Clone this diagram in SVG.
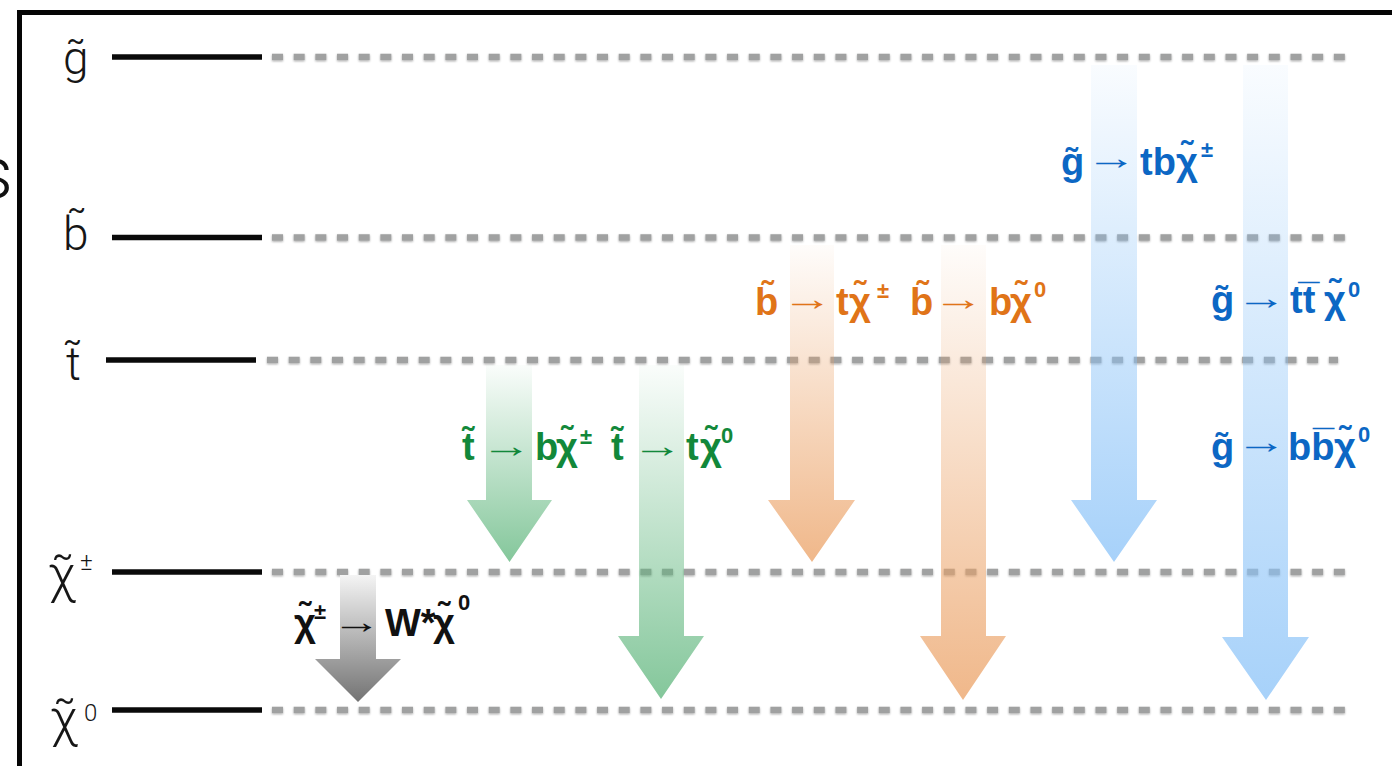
<svg xmlns="http://www.w3.org/2000/svg" width="1392" height="766" viewBox="0 0 1392 766">
  <style>
    .lvl-name { font-family: Roboto, "Liberation Sans", "DejaVu Sans", sans-serif; font-weight: 300; font-size: 46px; fill: #161616; }
    .lvl-chi { font-size: 52px; }
    .lvl-sup { font-size: 24px; }
    .solid { stroke: #0a0a0a; stroke-width: 5.5; }
    .dots { stroke: #a0a1a1; stroke-width: 6.5; stroke-dasharray: 11 10.67; }
    .lbl { font-family: "Liberation Sans", Arial, "DejaVu Sans", sans-serif; font-weight: bold; font-size: 38px; }
    .ar { font-family: "Liberation Sans", "DejaVu Sans", sans-serif; font-weight: normal; font-size: 33px; }
    .sup { font-size: 22px; }
    .green { fill: #12883a; }
    .orange { fill: #e07418; }
    .blue { fill: #0c67c4; }
    .black { fill: #111111; }
  </style>
  <defs>
    <linearGradient id="g-green" x1="0" y1="0" x2="0" y2="1">
      <stop offset="0" stop-color="#5db57b" stop-opacity="0.03"/>
      <stop offset="1" stop-color="#5db57b" stop-opacity="0.76"/>
    </linearGradient>
    <linearGradient id="g-orange" x1="0" y1="0" x2="0" y2="1">
      <stop offset="0" stop-color="#eba165" stop-opacity="0.03"/>
      <stop offset="1" stop-color="#eba165" stop-opacity="0.76"/>
    </linearGradient>
    <linearGradient id="g-blue" x1="0" y1="0" x2="0" y2="1">
      <stop offset="0" stop-color="#8bc3f8" stop-opacity="0.05"/>
      <stop offset="1" stop-color="#8bc3f8" stop-opacity="0.76"/>
    </linearGradient>
    <linearGradient id="g-gray" x1="0" y1="0" x2="0" y2="1">
      <stop offset="0" stop-color="#f4f4f4"/>
      <stop offset="1" stop-color="#737373"/>
    </linearGradient>
    <filter id="soft" filterUnits="userSpaceOnUse" x="0" y="0" width="1392" height="766">
      <feGaussianBlur in="SourceAlpha" stdDeviation="1.2"/>
      <feOffset dy="1.2" result="sh"/>
      <feComponentTransfer in="sh" result="shf"><feFuncA type="linear" slope="0.35"/></feComponentTransfer>
      <feMerge><feMergeNode in="shf"/><feMergeNode in="SourceGraphic"/></feMerge>
    </filter>
  </defs>

  <rect width="1392" height="766" fill="#ffffff"/>

  <!-- frame, cut at the right and bottom -->
  <rect x="19.5" y="12.5" width="1420" height="800" fill="none" stroke="#050505" stroke-width="5"/>
  <!-- tail of the axis title, cut at the left -->
  <text x="13" y="198" text-anchor="end" font-family="Roboto, 'Liberation Sans', sans-serif" font-weight="300" font-size="74" fill="#111">s</text>

  <!-- mass levels -->
  <g id="levels">
    <g id="level-gluino">
      <text class="lvl-name" x="63" y="74">g̃</text>
      <line class="solid" x1="112" y1="57" x2="262" y2="57"/>
      <line class="dots" x1="272" y1="57" x2="1346" y2="57" filter="url(#soft)"/>
    </g>
    <g id="level-sbottom">
      <text class="lvl-name" x="63" y="250">b̃</text>
      <line class="solid" x1="112" y1="237.5" x2="262" y2="237.5"/>
      <line class="dots" x1="272" y1="237.5" x2="1346" y2="237.5" filter="url(#soft)"/>
    </g>
    <g id="level-stop">
      <text class="lvl-name" x="66" y="380">t̃</text>
      <line class="solid" x1="106" y1="360" x2="256" y2="360"/>
      <line class="dots" x1="267" y1="360" x2="1338" y2="360" filter="url(#soft)"/>
    </g>
    <g id="level-chargino">
      <text class="lvl-name lvl-chi" x="48" y="592">χ̃<tspan class="lvl-sup" x="80" y="570">±</tspan></text>
      <line class="solid" x1="112" y1="572" x2="262" y2="572"/>
      <line class="dots" x1="272" y1="572" x2="1346" y2="572" filter="url(#soft)"/>
    </g>
    <g id="level-neutralino">
      <text class="lvl-name lvl-chi" x="50" y="736">χ̃<tspan class="lvl-sup" x="84" y="721" font-size="26">0</tspan></text>
      <line class="solid" x1="112" y1="710" x2="262" y2="710"/>
      <line class="dots" x1="272" y1="710" x2="1346" y2="710" filter="url(#soft)"/>
    </g>
  </g>

  <!-- decay arrows -->
  <g id="decays">
    <g id="decay-chargino-w">
      <polygon points="340,575 376,575 376,659 401,659 358,702 315,659 340,659" fill="url(#g-gray)"/>
    </g>
    <g id="decay-stop-b">
      <polygon points="486,365 532,365 532,500 552,500 509.5,562 467,500 486,500" fill="url(#g-green)"/>
    </g>
    <g id="decay-stop-t">
      <polygon points="639,365 684,365 684,636 704,636 661,699 618,636 639,636" fill="url(#g-green)"/>
    </g>
    <g id="decay-sbottom-t">
      <polygon points="790,245 834,245 834,500 855,500 812,562 768,500 790,500" fill="url(#g-orange)"/>
    </g>
    <g id="decay-sbottom-b">
      <polygon points="941,245 986,245 986,636 1006,636 963,700 920,636 941,636" fill="url(#g-orange)"/>
    </g>
    <g id="decay-gluino-tb">
      <polygon points="1091,65 1137,65 1137,500 1157,500 1114,562 1071,500 1091,500" fill="url(#g-blue)"/>
    </g>
    <g id="decay-gluino-tt">
      <polygon points="1243,65 1288,65 1288,637 1309,637 1266,700 1222,637 1243,637" fill="url(#g-blue)"/>
    </g>
  </g>

  <!-- decay labels -->
  <g id="labels">
    <g id="label-chargino-w">
      <text class="lbl black" y="636" font-size="34"><tspan x="294">χ̃</tspan><tspan class="sup" x="314" y="619" font-size="20">±</tspan><tspan x="385" y="636">W*</tspan><tspan x="433">χ̃</tspan><tspan class="sup" x="458" y="610">0</tspan></text>
      <text class="ar black" transform="translate(332,633) scale(1.5,1)">→</text>
    </g>
    <g id="label-stop-b">
      <text class="lbl green" y="460"><tspan x="462">t̃</tspan><tspan x="535">b</tspan><tspan x="556">χ̃</tspan><tspan class="sup" x="580" y="444">±</tspan></text>
      <text class="ar green" transform="translate(481,457) scale(1.55,1)">→</text>
    </g>
    <g id="label-stop-t">
      <text class="lbl green" y="460"><tspan x="611">t̃</tspan><tspan x="686">t</tspan><tspan x="700">χ̃</tspan><tspan class="sup" x="721" y="443">0</tspan></text>
      <text class="ar green" transform="translate(632,457) scale(1.55,1)">→</text>
    </g>
    <g id="label-sbottom-t">
      <text class="lbl orange" y="315"><tspan x="755">b̃</tspan><tspan x="836">t</tspan><tspan x="849">χ̃</tspan><tspan class="sup" x="877" y="298">±</tspan></text>
      <text class="ar orange" transform="translate(782,310) scale(1.55,1)">→</text>
    </g>
    <g id="label-sbottom-b">
      <text class="lbl orange" y="315"><tspan x="910">b̃</tspan><tspan x="989">b</tspan><tspan x="1010">χ̃</tspan><tspan class="sup" x="1034" y="297">0</tspan></text>
      <text class="ar orange" transform="translate(933,310) scale(1.55,1)">→</text>
    </g>
    <g id="label-gluino-tb">
      <text class="lbl blue" y="175"><tspan x="1061">g̃</tspan><tspan x="1140">tb</tspan><tspan x="1176">χ̃</tspan><tspan class="sup" x="1201" y="157">±</tspan></text>
      <text class="ar blue" transform="translate(1086,169) scale(1.55,1)">→</text>
    </g>
    <g id="label-gluino-tt">
      <text class="lbl blue" y="313"><tspan x="1211">g̃</tspan><tspan x="1290">tt̅</tspan><tspan x="1324">χ̃</tspan><tspan class="sup" x="1348" y="297">0</tspan></text>
      <text class="ar blue" transform="translate(1236,309) scale(1.55,1)">→</text>
    </g>
    <g id="label-gluino-bb">
      <text class="lbl blue" y="460"><tspan x="1211">g̃</tspan><tspan x="1288">bb̅</tspan><tspan x="1334">χ̃</tspan><tspan class="sup" x="1358" y="442">0</tspan></text>
      <text class="ar blue" transform="translate(1236,453) scale(1.55,1)">→</text>
    </g>
  </g>
</svg>
